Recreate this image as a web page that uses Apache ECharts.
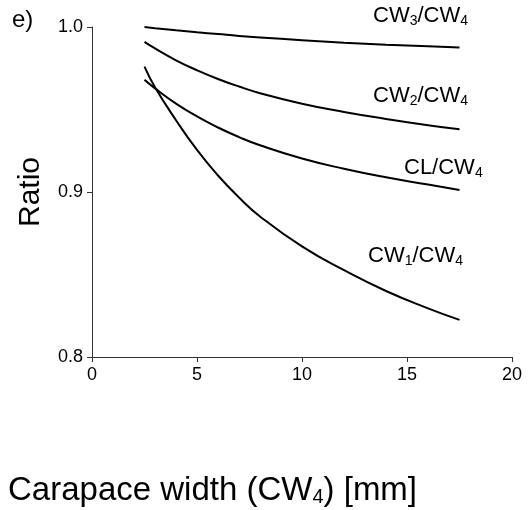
<!DOCTYPE html>
<html lang="en">
<head>
<meta charset="UTF-8">
<title>Ratio vs carapace width</title>
<style>
  html, body { margin: 0; padding: 0; background: #fff; }
  #main { width: 529px; height: 510px; }
</style>
<script src="https://cdn.jsdelivr.net/npm/echarts@6/dist/echarts.min.js"></script>
</head>
<body>
<div id="main"></div>
<script>
// carapace width CW4 [mm]
var widths = [2.5, 3, 4, 5, 6, 7, 8, 10, 12, 14, 16, 17.5];

// ratios
var cw3 = [1.000, 0.9993, 0.998, 0.9968, 0.9957, 0.9946, 0.9937, 0.9920, 0.9905, 0.9893, 0.9883, 0.9876];
var cw2 = [0.991, 0.987, 0.9798, 0.9738, 0.9685, 0.9639, 0.9599, 0.9535, 0.9485, 0.9443, 0.9405, 0.938];
var cl  = [0.968, 0.9628, 0.9536, 0.9458, 0.9391, 0.9333, 0.9283, 0.9203, 0.9141, 0.9089, 0.9045, 0.9012];
var cw1 = [0.976, 0.9635, 0.9435, 0.9255, 0.910, 0.8967, 0.8852, 0.867, 0.8526, 0.840, 0.8295, 0.8225];

var xTicks = [0, 5, 10, 15, 20];
var yTicks = [0.8, 0.9, 1.0];

var font = 'Liberation Sans, Arial, sans-serif';

function pairs(ys) {
  return widths.map(function (x, i) { return [x, ys[i]]; });
}

function line(name, ys) {
  return {
    name: name,
    type: 'line',
    data: pairs(ys),
    smooth: true,
    showSymbol: false,
    lineStyle: { color: '#000', width: 2 },
    silent: true
  };
}

// rich text styles for labels with subscripts
var rich = function (size, sub) {
  return {
    a: { fontSize: size, fontFamily: font, fill: '#000' },
    s: { fontSize: sub, fontFamily: font, fill: '#000', verticalAlign: 'bottom', padding: [size * 0.45, 0, 0, 0] }
  };
};

function label(left, top, parts) {
  return {
    type: 'text',
    left: left,
    top: top,
    style: {
      text: parts,
      rich: rich(22, 14),
      fill: '#000'
    }
  };
}

var chart = echarts.init(document.getElementById('main'));
chart.setOption({
  animation: false,
  backgroundColor: '#fff',
  grid: { left: 92, right: 17, top: 27, bottom: 153 },
  xAxis: {
    type: 'value',
    min: xTicks[0],
    max: xTicks[xTicks.length - 1],
    interval: 5,
    splitLine: { show: false },
    axisLine: { lineStyle: { color: '#333', width: 1 } },
    axisTick: { length: 5, lineStyle: { color: '#333' } },
    axisLabel: { color: '#000', fontSize: 18, fontFamily: font, margin: 9 }
  },
  yAxis: {
    type: 'value',
    min: yTicks[0],
    max: yTicks[yTicks.length - 1],
    interval: 0.1,
    splitLine: { show: false },
    axisLine: { show: true, lineStyle: { color: '#333', width: 1 } },
    axisTick: { show: true, length: 5, lineStyle: { color: '#333' } },
    axisLabel: {
      color: '#000', fontSize: 18, fontFamily: font, margin: 9,
      formatter: function (v) { return v.toFixed(1); }
    }
  },
  series: [
    line('CW3/CW4', cw3),
    line('CW2/CW4', cw2),
    line('CL/CW4', cl),
    line('CW1/CW4', cw1)
  ],
  graphic: [
    { type: 'text', left: 12, top: 8, style: { text: 'e)', fontSize: 24, fontFamily: font, fill: '#000' } },
    {
      type: 'text', x: 31, y: 192, rotation: Math.PI / 2,
      style: { text: 'Ratio', fontSize: 30, fontFamily: font, fill: '#000', align: 'center', verticalAlign: 'middle' }
    },
    {
      type: 'text', left: 8, top: 474,
      style: {
        text: '{a|Carapace width (CW}{s|4}{a|) [mm]}',
        rich: rich(33, 20)
      }
    },
    label(373, 5, '{a|CW}{s|3}{a|/CW}{s|4}'),
    label(373, 85, '{a|CW}{s|2}{a|/CW}{s|4}'),
    label(404, 157, '{a|CL/CW}{s|4}'),
    label(368, 245, '{a|CW}{s|1}{a|/CW}{s|4}')
  ]
});
</script>
</body>
</html>
